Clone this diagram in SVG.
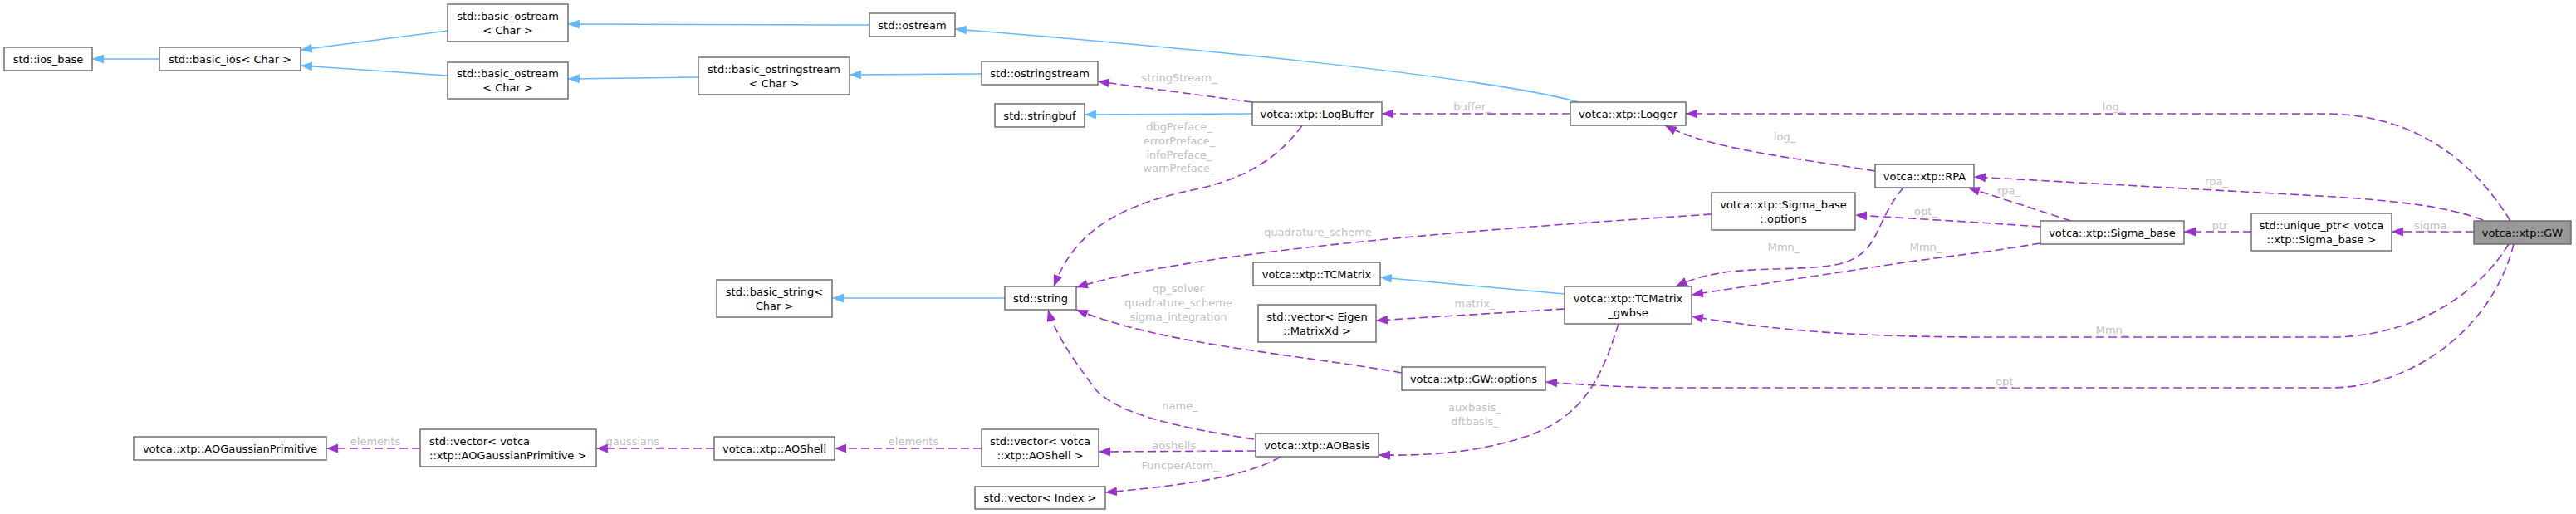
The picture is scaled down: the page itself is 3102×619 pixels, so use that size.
<svg xmlns="http://www.w3.org/2000/svg" width="3102" height="619" viewBox="0 0 3102 619">
<style>
.n rect{fill:#ffffff;stroke:#666666;stroke-width:1.4}
.n text{font-family:"DejaVu Sans","Liberation Sans",sans-serif;font-size:13px;fill:#000000;text-anchor:middle}
.g rect{fill:#999999}
.inh{fill:none;stroke:#63b8ff;stroke-width:1.5}
.use{fill:none;stroke:#9a32cd;stroke-width:1.6;stroke-dasharray:10,5}
.lbl{font-family:"DejaVu Sans","Liberation Sans",sans-serif;font-size:13px;fill:#c0c0c0;text-anchor:middle}
</style>
<defs>
<marker id="ab" markerUnits="userSpaceOnUse" markerWidth="15" markerHeight="11" refX="14" refY="5.5" orient="auto"><path d="M0,0 L14,5.5 L0,11 z" fill="#63b8ff"/></marker>
<marker id="ap" markerUnits="userSpaceOnUse" markerWidth="15" markerHeight="11" refX="14" refY="5.5" orient="auto"><path d="M0,0 L14,5.5 L0,11 z" fill="#9a32cd"/></marker>
</defs>
<rect width="3102" height="619" fill="#ffffff"/>
<g id="connectors">
<path class="inh" marker-end="url(#ab)" d="M192,71 L111,71"/>
<path class="inh" marker-end="url(#ab)" d="M539,37 L362,60"/>
<path class="inh" marker-end="url(#ab)" d="M539,91 L362,79"/>
<path class="inh" marker-end="url(#ab)" d="M1047,30 L684,29"/>
<path class="inh" marker-end="url(#ab)" d="M841,93 L684,95"/>
<path class="inh" marker-end="url(#ab)" d="M1182,89 L1023,90"/>
<path class="inh" marker-end="url(#ab)" d="M1901,123 C1780,90 1400,55 1150,35"/>
<path class="inh" marker-end="url(#ab)" d="M1508,137 L1306,138"/>
<path class="inh" marker-end="url(#ab)" d="M1210,359 L1002,359"/>
<path class="inh" marker-end="url(#ab)" d="M1884,354 L1662,334"/>

<path class="use" marker-end="url(#ap)" d="M1508,123 L1322,98"/>
<path class="use" marker-end="url(#ap)" d="M1568,151 C1540,190 1500,215 1440,228 C1330,250 1290,290 1269,345"/>
<path class="use" marker-end="url(#ap)" d="M1891,137 L1664,137"/>
<path class="use" marker-end="url(#ap)" d="M3023,266 C2985,205 2920,140 2806,137 L2030,137"/>
<path class="use" marker-end="url(#ap)" d="M2258,206 C2160,190 2060,180 2005,151"/>
<path class="use" marker-end="url(#ap)" d="M2990,265 C2950,250 2900,243 2811,237 L2377,213"/>
<path class="use" marker-end="url(#ap)" d="M2494,266 L2370,226"/>
<path class="use" marker-end="url(#ap)" d="M2457,273 L2400,269 L2234,259"/>
<path class="use" marker-end="url(#ap)" d="M2457,293 L2400,302 L2300,315 L2037,355"/>
<path class="use" marker-end="url(#ap)" d="M2292,226 C2255,270 2265,305 2215,318 C2150,330 2080,315 2018,345"/>
<path class="use" marker-end="url(#ap)" d="M2061,258 C1800,275 1450,300 1296,346"/>
<path class="use" marker-end="url(#ap)" d="M1688,449 C1550,425 1400,415 1296,373"/>
<path class="use" marker-end="url(#ap)" d="M1510,529 C1420,515 1350,500 1320,470 C1290,430 1270,400 1262,373"/>
<path class="use" marker-end="url(#ap)" d="M1884,372 L1657,386"/>
<path class="use" marker-end="url(#ap)" d="M1949,390 C1930,450 1910,500 1840,525 C1780,545 1720,549 1660,548"/>
<path class="use" marker-end="url(#ap)" d="M3021,294 C2980,360 2900,406 2806,406 L2400,406 C2250,406 2150,400 2037,381"/>
<path class="use" marker-end="url(#ap)" d="M3027,294 C3000,400 2900,467 2806,467 L2000,467 C1950,466 1900,463 1861,460"/>
<path class="use" marker-end="url(#ap)" d="M2979,279 L2880,279"/>
<path class="use" marker-end="url(#ap)" d="M2711,279 L2630,279"/>
<path class="use" marker-end="url(#ap)" d="M1512,543 L1323,544"/>
<path class="use" marker-end="url(#ap)" d="M1542,550 C1500,575 1420,585 1331,593"/>
<path class="use" marker-end="url(#ap)" d="M1182,540 L1005,540"/>
<path class="use" marker-end="url(#ap)" d="M860,540 L718,540"/>
<path class="use" marker-end="url(#ap)" d="M506,540 L393,540"/>

<text class="lbl" x="1420" y="97.5">stringStream_</text>
<text class="lbl" x="1420" y="156.5">dbgPreface_</text>
<text class="lbl" x="1420" y="173.5">errorPreface_</text>
<text class="lbl" x="1420" y="190.5">infoPreface_</text>
<text class="lbl" x="1420" y="206.5">warnPreface_</text>
<text class="lbl" x="1773" y="132.5">buffer_</text>
<text class="lbl" x="2149" y="168.5">log_</text>
<text class="lbl" x="2545" y="132.5">log_</text>
<text class="lbl" x="2669" y="222.5">rpa_</text>
<text class="lbl" x="2419" y="233.5">rpa_</text>
<text class="lbl" x="2319" y="258.5">opt_</text>
<text class="lbl" x="2148" y="301.5">Mmn_</text>
<text class="lbl" x="2319" y="301.5">Mmn_</text>
<text class="lbl" x="2673" y="275.5">ptr</text>
<text class="lbl" x="2930" y="275.5">sigma_</text>
<text class="lbl" x="1587" y="283.5">quadrature_scheme</text>
<text class="lbl" x="1419" y="351.5">qp_solver</text>
<text class="lbl" x="1419" y="368.5">quadrature_scheme</text>
<text class="lbl" x="1419" y="385.5">sigma_integration</text>
<text class="lbl" x="1776" y="369.5">matrix_</text>
<text class="lbl" x="2543" y="401.5">Mmn_</text>
<text class="lbl" x="2417" y="463.5">opt_</text>
<text class="lbl" x="1776" y="494.5">auxbasis_</text>
<text class="lbl" x="1776" y="511.5">dftbasis_</text>
<text class="lbl" x="1421" y="492.5">name_</text>
<text class="lbl" x="1417" y="540.5">aoshells_</text>
<text class="lbl" x="1421" y="564.5">FuncperAtom_</text>
<text class="lbl" x="1100" y="535.5">elements</text>
<text class="lbl" x="765" y="535.5">gaussians_</text>
<text class="lbl" x="452" y="535.5">elements</text>
</g>

<g id="ios_base" class="n"><rect x="5" y="57" width="106" height="28"/><text x="58" y="75.5">std::ios_base</text></g>
<g id="basic_ios" class="n"><rect x="192" y="57" width="170" height="28"/><text x="277" y="75.5">std::basic_ios&lt; Char &gt;</text></g>
<g id="basic_ostream_1" class="n"><rect x="539" y="5" width="145" height="45"/><text x="611.5" y="23.5">std::basic_ostream</text><text x="611.5" y="40.5">&lt; Char &gt;</text></g>
<g id="basic_ostream_2" class="n"><rect x="539" y="75" width="145" height="44"/><text x="611.5" y="93">std::basic_ostream</text><text x="611.5" y="110">&lt; Char &gt;</text></g>
<g id="ostream" class="n"><rect x="1047" y="16" width="103" height="28"/><text x="1098.5" y="34.5">std::ostream</text></g>
<g id="basic_ostringstream" class="n"><rect x="841" y="69" width="182" height="45"/><text x="932" y="87.5">std::basic_ostringstream</text><text x="932" y="104.5">&lt; Char &gt;</text></g>
<g id="ostringstream" class="n"><rect x="1182" y="74" width="140" height="28"/><text x="1252" y="92.5">std::ostringstream</text></g>
<g id="stringbuf" class="n"><rect x="1198" y="125" width="108" height="28"/><text x="1252" y="143.5">std::stringbuf</text></g>
<g id="LogBuffer" class="n"><rect x="1508" y="123" width="156" height="28"/><text x="1586" y="141.5">votca::xtp::LogBuffer</text></g>
<g id="Logger" class="n"><rect x="1891" y="123" width="139" height="28"/><text x="1960.5" y="141.5">votca::xtp::Logger</text></g>
<g id="RPA" class="n"><rect x="2258" y="198" width="119" height="28"/><text x="2317.5" y="216.5">votca::xtp::RPA</text></g>
<g id="Sigma_base_options" class="n"><rect x="2061" y="232" width="173" height="45"/><text x="2147.5" y="250.5">votca::xtp::Sigma_base</text><text x="2147.5" y="267.5">::options</text></g>
<g id="Sigma_base" class="n"><rect x="2457" y="266" width="173" height="28"/><text x="2543.5" y="284.5">votca::xtp::Sigma_base</text></g>
<g id="unique_ptr" class="n"><rect x="2711" y="257" width="169" height="45"/><text x="2795.5" y="275.5">std::unique_ptr&lt; votca</text><text x="2795.5" y="292.5">::xtp::Sigma_base &gt;</text></g>
<g id="GW" class="n g"><rect x="2979" y="266" width="117" height="28"/><text x="3037.5" y="284.5">votca::xtp::GW</text></g>
<g id="basic_string" class="n"><rect x="863" y="337" width="139" height="45"/><text x="932.5" y="355.5">std::basic_string&lt;</text><text x="932.5" y="372.5">Char &gt;</text></g>
<g id="string" class="n"><rect x="1210" y="345" width="86" height="28"/><text x="1253" y="363.5">std::string</text></g>
<g id="TCMatrix" class="n"><rect x="1509" y="316" width="153" height="28"/><text x="1585.5" y="334.5">votca::xtp::TCMatrix</text></g>
<g id="TCMatrix_gwbse" class="n"><rect x="1884" y="345" width="153" height="45"/><text x="1960.5" y="363.5">votca::xtp::TCMatrix</text><text x="1960.5" y="380.5">_gwbse</text></g>
<g id="vector_MatrixXd" class="n"><rect x="1515" y="367" width="142" height="45"/><text x="1586" y="385.5">std::vector&lt; Eigen</text><text x="1586" y="402.5">::MatrixXd &gt;</text></g>
<g id="GW_options" class="n"><rect x="1688" y="442" width="173" height="28"/><text x="1774.5" y="460.5">votca::xtp::GW::options</text></g>
<g id="AOGaussianPrimitive" class="n"><rect x="161" y="526" width="232" height="28"/><text x="277" y="544.5">votca::xtp::AOGaussianPrimitive</text></g>
<g id="vector_AOGaussianPrimitive" class="n"><rect x="506" y="517" width="212" height="45"/><text x="517" y="535.5" style="text-anchor:start">std::vector&lt; votca</text><text x="517" y="552.5" style="text-anchor:start">::xtp::AOGaussianPrimitive &gt;</text></g>
<g id="AOShell" class="n"><rect x="860" y="526" width="145" height="28"/><text x="932.5" y="544.5">votca::xtp::AOShell</text></g>
<g id="vector_AOShell" class="n"><rect x="1182" y="517" width="141" height="45"/><text x="1252.5" y="535.5">std::vector&lt; votca</text><text x="1252.5" y="552.5">::xtp::AOShell &gt;</text></g>
<g id="AOBasis" class="n"><rect x="1512" y="522" width="148" height="28"/><text x="1586" y="540.5">votca::xtp::AOBasis</text></g>
<g id="vector_Index" class="n"><rect x="1174" y="586" width="157" height="27"/><text x="1252.5" y="604">std::vector&lt; Index &gt;</text></g>
</svg>
